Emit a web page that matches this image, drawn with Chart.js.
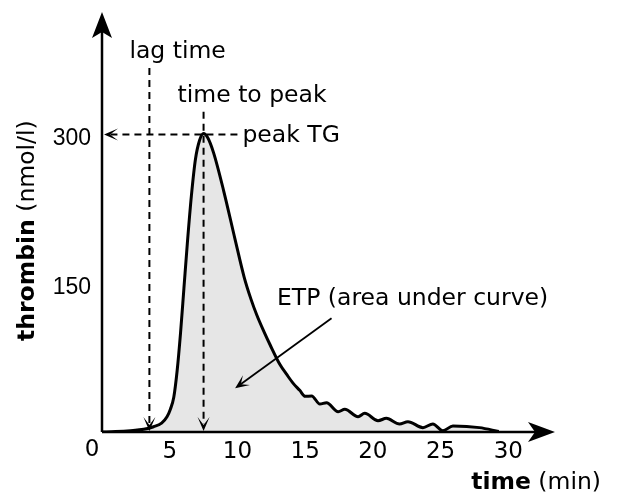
<!DOCTYPE html>
<html>
<head>
<meta charset="utf-8">
<script src="https://cdn.jsdelivr.net/npm/chart.js@4/dist/chart.umd.min.js"></script>
<style>
html, body { margin: 0; padding: 0; background: #fff; }
#wrap { width: 618px; height: 493px; }
</style>
</head>
<body>
<div id="wrap"><canvas id="tgChart" width="618" height="493"></canvas></div>
<script>
// thrombin generation curve
const timeMin = [0, 1, 2.1, 3.08, 3.81, 4.4, 4.8, 5.05, 5.3, 5.55, 5.8, 6.05, 6.3, 6.6, 6.9, 7.2, 7.5,
    7.8, 8.23, 8.97, 9.83, 10.5, 11.0, 11.43, 12.0, 12.41, 13.14, 13.64, 14.12, 14.6, 15.0, 15.48, 16.09, 16.58,
    17.44, 17.93, 18.91, 19.4, 20.38, 21.0, 21.97, 22.59, 23.7, 24.43, 25.17, 25.91, 27.87, 29.3];
const thrombin = [0, 0.4, 1.3, 2.7, 5.3, 9, 15.4, 23, 35, 62, 100, 145, 190, 238, 275, 294, 301,
    297, 282, 244, 194, 156, 134, 118, 100, 88, 68, 58, 49, 42, 36, 36.3, 28.2, 29.6,
    20.5, 22.9, 15.4, 18.8, 11.4, 13.8, 8.1, 10.4, 4.4, 8.1, 1.3, 6.0, 4.4, 0.5];

const xTicks = [5, 10, 15, 20, 25, 30];
const yTicks = [150, 300];
const originLabel = "0";

// markers
const lagTime = 3.5;
const timeToPeak = 7.5;
const peakTG = 300;
const etpArrowFrom = [16.95, 114.6];
const etpArrowTo = [9.83, 44];

const FONT = "'DejaVu Sans', sans-serif";
const FS = 23.5;

function arrowHead(ctx, x, y, angle, len, half, notch) {
    ctx.save();
    ctx.translate(x, y);
    ctx.rotate(angle);
    ctx.beginPath();
    ctx.moveTo(0, 0);
    ctx.lineTo(-len, -half);
    ctx.lineTo(-len + notch, 0);
    ctx.lineTo(-len, half);
    ctx.closePath();
    ctx.fill();
    ctx.restore();
}

const annotations = {
    id: "annotations",
    afterDatasetsDraw(chart) {
        const ctx = chart.ctx;
        const xs = chart.scales.x, ys = chart.scales.y;
        const area = chart.chartArea;
        const x0 = xs.getPixelForValue(0), y0 = ys.getPixelForValue(0);

        ctx.save();
        ctx.fillStyle = "#000";
        ctx.strokeStyle = "#000";

        // axes with arrow heads
        ctx.lineWidth = 2.5;
        ctx.beginPath();
        ctx.moveTo(x0, y0);
        ctx.lineTo(area.right - 10, y0);
        ctx.moveTo(x0, y0);
        ctx.lineTo(x0, area.top + 10);
        ctx.stroke();
        arrowHead(ctx, area.right, y0, 0, 27, 10, 7);
        arrowHead(ctx, x0, area.top, -Math.PI / 2, 26, 10, 6);

        // dashed marker lines
        const lagX = xs.getPixelForValue(lagTime);
        const ttpX = xs.getPixelForValue(timeToPeak);
        const peakY = ys.getPixelForValue(peakTG);
        ctx.lineWidth = 2;
        ctx.setLineDash([7, 5]);
        ctx.beginPath();
        ctx.moveTo(lagX, ys.getPixelForValue(367));
        ctx.lineTo(lagX, y0 - 8);
        ctx.moveTo(ttpX, ys.getPixelForValue(323));
        ctx.lineTo(ttpX, y0 - 8);
        ctx.moveTo(xs.getPixelForValue(10), peakY);
        ctx.lineTo(x0 + 8, peakY);
        ctx.stroke();
        ctx.setLineDash([]);
        arrowHead(ctx, lagX, y0 - 1, Math.PI / 2, 14, 6, 8);
        arrowHead(ctx, ttpX, y0 - 1, Math.PI / 2, 14, 6, 8);
        arrowHead(ctx, x0 + 2, peakY, Math.PI, 14, 6, 8);

        // ETP arrow
        const ax1 = xs.getPixelForValue(etpArrowFrom[0]), ay1 = ys.getPixelForValue(etpArrowFrom[1]);
        const ax2 = xs.getPixelForValue(etpArrowTo[0]), ay2 = ys.getPixelForValue(etpArrowTo[1]);
        const ang = Math.atan2(ay2 - ay1, ax2 - ax1);
        ctx.lineWidth = 1.8;
        ctx.beginPath();
        ctx.moveTo(ax1, ay1);
        ctx.lineTo(ax2 - 6 * Math.cos(ang), ay2 - 6 * Math.sin(ang));
        ctx.stroke();
        arrowHead(ctx, ax2, ay2, ang, 14, 6, 7);

        // labels
        ctx.font = FS + "px " + FONT;
        ctx.textAlign = "left";
        ctx.textBaseline = "alphabetic";
        ctx.fillText("lag time", lagX - 20, 58);
        ctx.fillText("time to peak", ttpX - 26, 102);
        ctx.fillText("peak TG", xs.getPixelForValue(10) + 5, peakY + 8);
        ctx.fillText("ETP (area under curve)", 277, 305);

        // origin label
        ctx.font = "23px " + FONT;
        ctx.textAlign = "center";
        ctx.textBaseline = "middle";
        ctx.fillText(originLabel, x0 - 10, 450);

        // x title
        ctx.textAlign = "left";
        ctx.textBaseline = "alphabetic";
        ctx.font = "bold " + FS + "px " + FONT;
        const wBold = ctx.measureText("time").width;
        ctx.font = FS + "px " + FONT;
        const wReg = ctx.measureText(" (min)").width;
        let tx = 601 - wBold - wReg;
        ctx.font = "bold " + FS + "px " + FONT;
        ctx.fillText("time", tx, 489);
        ctx.font = FS + "px " + FONT;
        ctx.fillText(" (min)", tx + wBold, 489);

        // y title
        ctx.save();
        ctx.translate(34, 341);
        ctx.rotate(-Math.PI / 2);
        ctx.font = "bold " + FS + "px " + FONT;
        ctx.fillText("thrombin", 0, 0);
        const wb = ctx.measureText("thrombin").width;
        ctx.font = FS + "px " + FONT;
        ctx.fillText(" (nmol/l)", wb, 0);
        ctx.restore();

        ctx.restore();
    }
};

const ctx = document.getElementById("tgChart").getContext("2d");
const tgChart = new Chart(ctx, {
    type: "line",
    data: {
        datasets: [
            {
                data: timeMin.map((t, i) => ({ x: t, y: thrombin[i] })),
                borderColor: "#000",
                borderWidth: 3,
                backgroundColor: "#e6e6e6",
                fill: "origin",
                pointRadius: 0,
                cubicInterpolationMode: "monotone",
            },
        ],
    },
    options: {
        responsive: false,
        animation: false,
        layout: { padding: { top: 12, right: 63, left: 0, bottom: 0 } },
        plugins: {
            legend: { display: false },
            tooltip: { enabled: false },
        },
        scales: {
            x: {
                type: "linear",
                min: 0,
                max: 33.45,
                grid: { display: false, drawTicks: false },
                border: { display: false },
                afterBuildTicks: (s) => { s.ticks = xTicks.map((v) => ({ value: v })); },
                afterFit: (s) => { s.height = 61; s.paddingLeft = 0; s.paddingRight = 0; },
                ticks: {
                    color: "#000",
                    font: { family: "'DejaVu Sans'", size: 23 },
                    padding: 6,
                    maxRotation: 0,
                    autoSkip: false,
                },
            },
            y: {
                min: 0,
                max: 423.5,
                grid: { display: false, drawTicks: false },
                border: { display: false },
                afterBuildTicks: (s) => { s.ticks = yTicks.map((v) => ({ value: v })); },
                afterFit: (s) => { s.width = 102; s.paddingTop = 0; s.paddingBottom = 0; },
                ticks: {
                    color: "#000",
                    font: { family: "'Liberation Sans'", size: 23 },
                    padding: 11,
                    labelOffset: 4,
                },
            },
        },
    },
    plugins: [annotations],
});
</script>
</body>
</html>
